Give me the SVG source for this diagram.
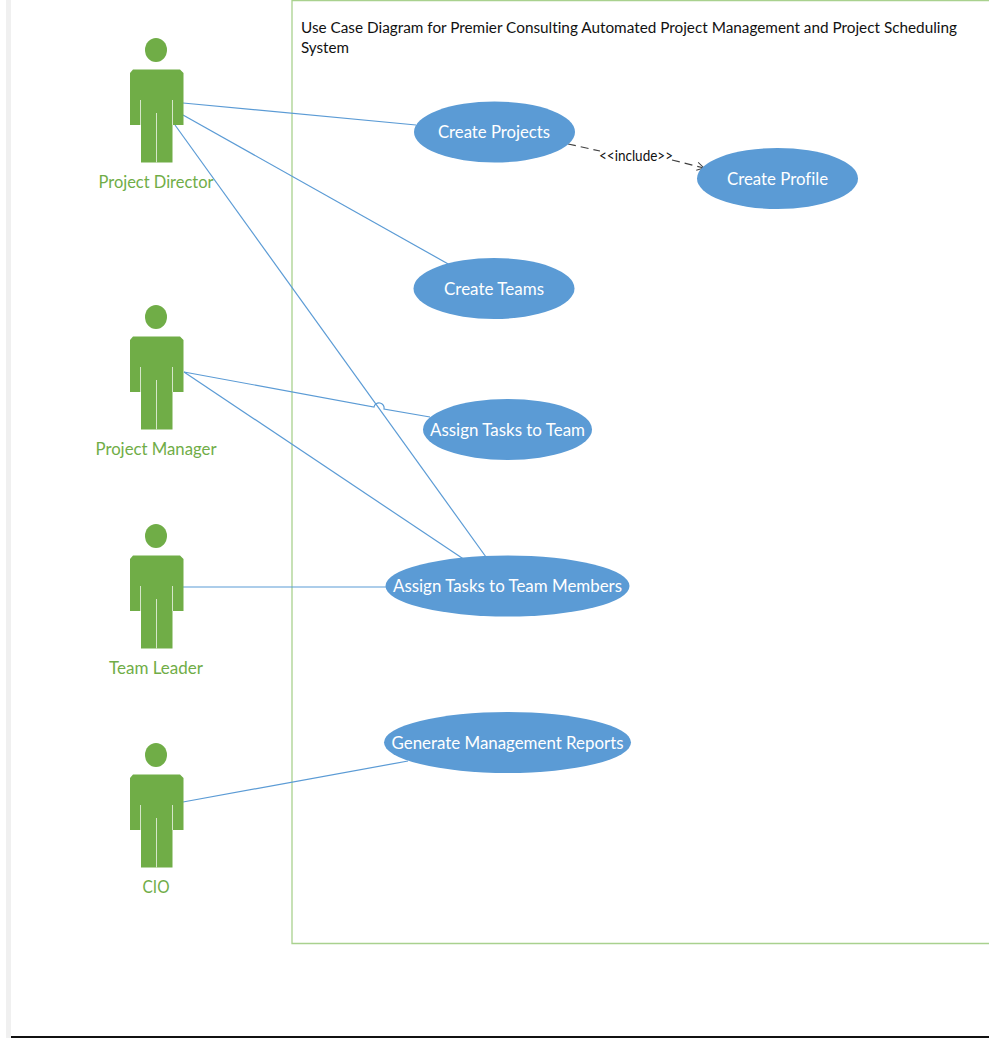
<svg xmlns="http://www.w3.org/2000/svg" width="989" height="1038" viewBox="0 0 989 1038">
<style>
text{font-family:Lato,"Liberation Sans",sans-serif;font-variant-ligatures:none}
.uc ellipse{fill:#5b9bd5}
.uc text{fill:#fff;font-size:18px;text-anchor:middle}
.actor text{fill:#70ad47;font-size:18px;text-anchor:middle}
.conn line,.conn path{stroke:#5b9bd5;stroke-width:1.200;fill:none}
</style>
<defs>
<g id="fig">
<ellipse cx="156" cy="50" rx="11" ry="12" fill="#70ad47"/>
<path d="M133 69.500H180L183.500 73V125H172.500V162.500H141V125H130V73Z" fill="#70ad47"/>
<path d="M140.500 100V125M172.500 100V125M156.500 113V162.500" stroke="#d5e6c9" stroke-width="1" fill="none"/>
</g>
<marker id="open" markerWidth="10" markerHeight="10" refX="8" refY="5" orient="auto" markerUnits="userSpaceOnUse">
<path d="M1 1L8 5L1 9" fill="none" stroke="#404040" stroke-width="1"/>
</marker>
</defs>
<rect width="989" height="1038" fill="#fff"/>
<rect x="6" y="0" width="5" height="1038" fill="#f0f0f0"/>
<rect x="11" y="1036" width="978" height="2" fill="#111"/>
<g id="boundary">
<path d="M989 943.500H292V0.500H989" fill="none" stroke="#a9d18e" stroke-width="1.300"/>
<text x="301" y="33" font-size="15.500" fill="#111" textLength="656" lengthAdjust="spacingAndGlyphs">Use Case Diagram for Premier Consulting Automated Project Management and Project Scheduling</text>
<text x="301" y="53" font-size="15.500" fill="#111" textLength="48" lengthAdjust="spacingAndGlyphs">System</text>
</g>
<g id="connectors" class="conn">
<line x1="183" y1="103" x2="416" y2="125"/>
<line x1="183" y1="115" x2="450" y2="265"/>
<line x1="175" y1="125" x2="486" y2="557"/>
<path d="M184 372L374 407A5 5 0 0 1 384 409L430 417"/>
<line x1="184" y1="372" x2="465" y2="560"/>
<line x1="183" y1="587" x2="386" y2="587"/>
<line x1="183" y1="802" x2="408" y2="761"/>
<path d="M568 144L600 151" style="stroke:#404040;stroke-dasharray:8 5"/>
<path d="M672 160L704 168" style="stroke:#404040;stroke-dasharray:8 5" marker-end="url(#open)"/>
<text x="599" y="161" font-size="15" fill="#111" textLength="74" lengthAdjust="spacingAndGlyphs">&lt;&lt;include&gt;&gt;</text>
</g>
<g id="uc-create-projects" class="uc"><ellipse cx="494.500" cy="132" rx="80.500" ry="30.500"/><text x="494" y="138" textLength="112" lengthAdjust="spacingAndGlyphs">Create Projects</text></g>
<g id="uc-create-profile" class="uc"><ellipse cx="777.500" cy="178.500" rx="80.500" ry="30.500"/><text x="777.500" y="185" textLength="101" lengthAdjust="spacingAndGlyphs">Create Profile</text></g>
<g id="uc-create-teams" class="uc"><ellipse cx="494" cy="288.500" rx="80.500" ry="30.500"/><text x="494" y="295" textLength="100" lengthAdjust="spacingAndGlyphs">Create Teams</text></g>
<g id="uc-assign-team" class="uc"><ellipse cx="507.500" cy="429.500" rx="84.500" ry="30.500"/><text x="507.500" y="436" textLength="155" lengthAdjust="spacingAndGlyphs">Assign Tasks to Team</text></g>
<g id="uc-assign-members" class="uc"><ellipse cx="507.500" cy="586" rx="122" ry="30.500"/><text x="507.500" y="592" textLength="229" lengthAdjust="spacingAndGlyphs">Assign Tasks to Team Members</text></g>
<g id="uc-reports" class="uc"><ellipse cx="507.500" cy="742.500" rx="123.500" ry="30.500"/><text x="507.500" y="749" textLength="232" lengthAdjust="spacingAndGlyphs">Generate Management Reports</text></g>
<g id="actor-director" class="actor"><use href="#fig"/><text x="156" y="188" textLength="115" lengthAdjust="spacingAndGlyphs">Project Director</text></g>
<g id="actor-manager" class="actor"><use href="#fig" y="267"/><text x="156" y="455" textLength="121" lengthAdjust="spacingAndGlyphs">Project Manager</text></g>
<g id="actor-leader" class="actor"><use href="#fig" y="486"/><text x="156" y="674" textLength="94" lengthAdjust="spacingAndGlyphs">Team Leader</text></g>
<g id="actor-cio" class="actor"><use href="#fig" y="705"/><text x="156" y="893" textLength="27" lengthAdjust="spacingAndGlyphs">CIO</text></g>
</svg>
